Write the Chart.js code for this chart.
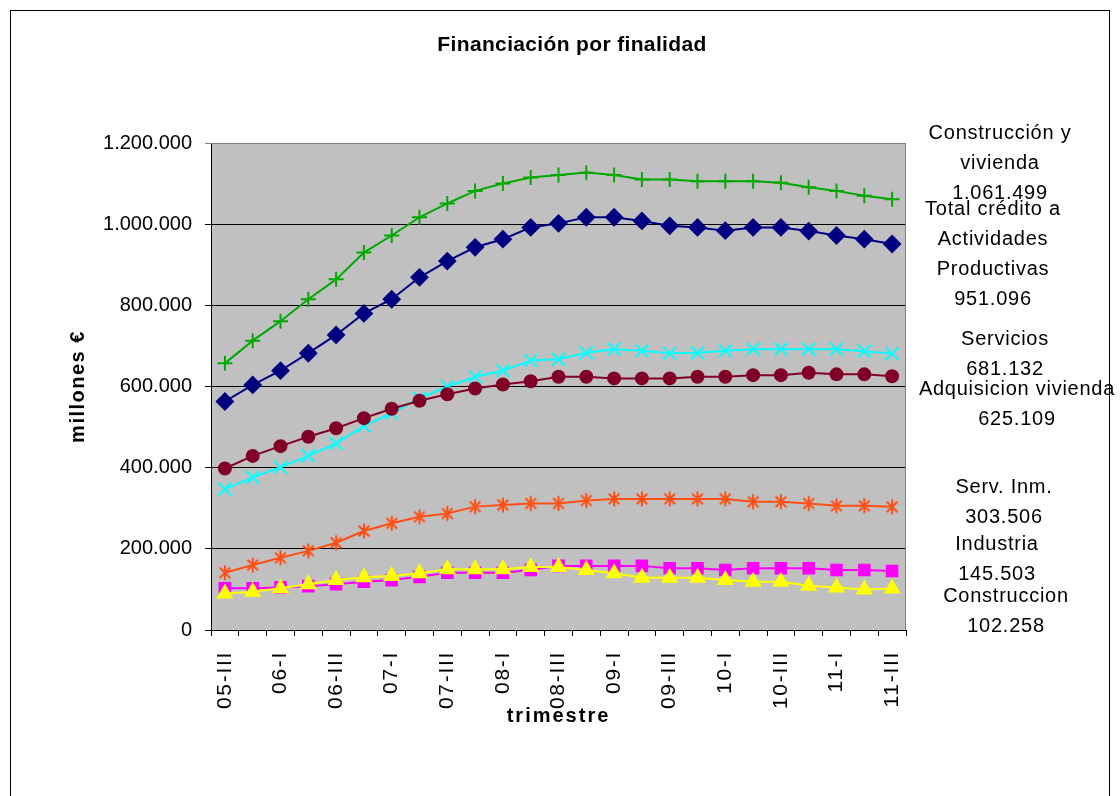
<!DOCTYPE html>
<html>
<head>
<meta charset="utf-8">
<script src="https://cdn.jsdelivr.net/npm/chart.js@4"></script>
<style>
  html, body { margin: 0; padding: 0; background: #fff; }
  canvas { display: block; }
</style>
</head>
<body>
<canvas id="c" width="1120" height="796"></canvas>
<script>
// Quarterly categories
const trimestres = ['05-III','05-IV','06-I','06-II','06-III','06-IV','07-I','07-II','07-III','07-IV',
  '08-I','08-II','08-III','08-IV','09-I','09-II','09-III','09-IV','10-I','10-II','10-III','10-IV',
  '11-I','11-II','11-III'];

// Series, millones €
const construccionVivienda = [657000,713000,761000,815000,864000,930000,972000,1017000,1051000,1082000,
  1100000,1115000,1121000,1127000,1121000,1110000,1110000,1106000,1106000,1106000,1102000,1091000,
  1082000,1070000,1061499];
const totalActividades = [563000,604000,639000,682000,727000,780000,815000,869000,909000,943000,
  963000,992000,1002000,1017000,1017000,1008000,996000,992000,984000,992000,992000,983000,
  972000,963000,951096];
const servicios = [347000,376000,401000,429000,460000,503000,534000,571000,600000,624000,
  639000,664000,667000,683000,692000,688000,682000,683000,688000,692000,692000,692000,
  692000,687000,681132];
const adquisicionVivienda = [398000,429000,453000,476000,497000,522000,545000,565000,581000,595000,
  605000,613000,624000,624000,620000,620000,620000,624000,624000,628000,628000,634000,
  630000,630000,625109];
const servInmobiliarios = [141000,160000,178000,195000,215000,244000,263000,279000,287000,304000,
  308000,312000,312000,319000,323000,323000,323000,323000,323000,316000,316000,312000,
  306000,306000,303506];
const industria = [103000,103000,105000,108000,113000,119000,123000,131000,141000,141000,
  141000,148000,158000,158000,158000,158000,152000,152000,148000,152000,152000,152000,
  148000,148000,145503];
const construccion = [90000,94000,103000,113000,123000,130000,133000,140000,150000,150000,
  150000,155000,155000,148000,140000,129000,129000,129000,123000,119000,119000,109000,
  105000,100000,102258];

// Axis range
const yMin = 0, yMax = 1200000, yStep = 200000;

const FONT = "'Liberation Sans', Arial, sans-serif";
Chart.defaults.font.family = FONT;

// Spanish-style thousands separator
function fmt(v) {
  return Math.round(v).toString().replace(/\B(?=(\d{3})+(?!\d))/g, '.');
}
const last = a => a[a.length - 1];

// Six-armed asterisk marker (diagonal cross plus a vertical stroke)
function asteriskMarker(color, size) {
  const cv = document.createElement('canvas');
  cv.width = size; cv.height = size;
  const g = cv.getContext('2d');
  const c = size / 2, r = size / 2 - 1.5, d = r * Math.SQRT1_2;
  g.strokeStyle = color;
  g.lineWidth = 2;
  g.lineCap = 'butt';
  g.beginPath();
  g.moveTo(c, c - r); g.lineTo(c, c + r);
  g.moveTo(c - d, c - d); g.lineTo(c + d, c + d);
  g.moveTo(c + d, c - d); g.lineTo(c - d, c + d);
  g.stroke();
  return cv;
}

// Right-side captions: text lines and the series whose final value closes them
const captions = [
  { lines: ['Construcción y', 'vivienda'], series: construccionVivienda, x: 1000, y: 133 },
  { lines: ['Total crédito a', 'Actividades', 'Productivas'], series: totalActividades, x: 993, y: 209 },
  { lines: ['Servicios'], series: servicios, x: 1005, y: 339 },
  { lines: ['Adquisicion vivienda'], series: adquisicionVivienda, x: 1017, y: 389 },
  { lines: ['Serv. Inm.'], series: servInmobiliarios, x: 1004, y: 487 },
  { lines: ['Industria'], series: industria, x: 997, y: 544 },
  { lines: ['Construccion'], series: construccion, x: 1006, y: 596 }
];

function spacedText(ctx, text, x, y, font, spacing, align, baseline) {
  ctx.save();
  ctx.font = font;
  ctx.fillStyle = '#000';
  ctx.textAlign = align;
  ctx.textBaseline = baseline;
  if ('letterSpacing' in ctx) ctx.letterSpacing = spacing + 'px';
  ctx.fillText(text, x, y);
  ctx.restore();
}

const frame = {
  id: 'frame',
  beforeDraw(chart) {
    const { ctx, chartArea: a } = chart;
    ctx.save();
    ctx.fillStyle = '#fff';
    ctx.fillRect(0, 0, chart.width, chart.height);
    ctx.strokeStyle = '#000';
    ctx.lineWidth = 1;
    ctx.strokeRect(10.5, 10.5, 1099, 820);
    ctx.fillStyle = '#C0C0C0';
    ctx.fillRect(a.left, a.top, a.right - a.left, a.bottom - a.top);
    ctx.restore();
  },
  afterDraw(chart) {
    const { ctx, chartArea: a } = chart;
    // plot frame (top and right edges)
    ctx.save();
    ctx.strokeStyle = '#808080';
    ctx.lineWidth = 1;
    ctx.beginPath();
    ctx.moveTo(a.left, a.top + 0.5);
    ctx.lineTo(a.right - 0.5, a.top + 0.5);
    ctx.lineTo(a.right - 0.5, a.bottom);
    ctx.stroke();
    ctx.restore();

    // title
    spacedText(ctx, 'Financiación por finalidad', 572, 51, 'bold 21px ' + FONT, 0.35, 'center', 'alphabetic');

    // category labels, every second quarter, rotated
    const xs = chart.scales.x;
    trimestres.forEach((t, i) => {
      if (i % 2) return;
      const px = xs.getPixelForValue(i);
      ctx.save();
      ctx.translate(px, a.bottom + 21);
      ctx.rotate(-Math.PI / 2);
      spacedText(ctx, t, 0, 0, '21px ' + FONT, 1.7, 'right', 'middle');
      ctx.restore();
    });

    // axis titles
    spacedText(ctx, 'trimestre', (a.left + a.right) / 2, 722, 'bold 20px ' + FONT, 2, 'center', 'alphabetic');
    ctx.save();
    ctx.translate(84, (a.top + a.bottom) / 2);
    ctx.rotate(-Math.PI / 2);
    spacedText(ctx, 'millones €', 0, 0, 'bold 20px ' + FONT, 1.5, 'center', 'alphabetic');
    ctx.restore();

    // captions with final values
    captions.forEach(c => {
      const rows = c.lines.concat([fmt(last(c.series))]);
      rows.forEach((r, k) => {
        spacedText(ctx, r, c.x, c.y + k * 30, '20px ' + FONT, 0.75, 'center', 'middle');
      });
    });
  }
};

function series(data, color, style, radius, order) {
  return {
    data, borderColor: color, backgroundColor: color, borderWidth: 2,
    pointStyle: style, pointRadius: radius, pointBorderColor: color,
    pointBackgroundColor: color, pointBorderWidth: 2, tension: 0, fill: false, order
  };
}

new Chart(document.getElementById('c'), {
  type: 'line',
  data: {
    labels: trimestres,
    datasets: [
      series(construccion, '#FFFF00', 'triangle', 8, 1),
      series(industria, '#FF00FF', 'rect', 7.5, 2),
      series(servInmobiliarios, '#FF4F14', asteriskMarker('#FF4F14', 18), 8, 3),
      series(adquisicionVivienda, '#800026', 'circle', 6, 4),
      series(servicios, '#00FFFF', 'crossRot', 9, 5),
      series(totalActividades, '#000080', 'rectRot', 8, 6),
      series(construccionVivienda, '#00A800', 'cross', 7.5, 7)
    ]
  },
  options: {
    responsive: false,
    animation: false,
    events: [],
    layout: { padding: { left: 0, right: 214, top: 143, bottom: 0 } },
    plugins: { legend: { display: false }, title: { display: false }, tooltip: { enabled: false } },
    scales: {
      x: {
        type: 'category',
        offset: true,
        grid: { offset: true, drawOnChartArea: false, drawTicks: true, tickLength: 6, color: '#000' },
        border: { display: true, color: '#000', width: 1 },
        ticks: { display: false },
        afterFit(s) { s.height = 166; }
      },
      y: {
        min: yMin, max: yMax,
        ticks: {
          stepSize: yStep, padding: 13, color: '#000',
          font: { size: 20, family: FONT },
          callback: v => fmt(v)
        },
        grid: {
          tickLength: 6,
          color: c => (c.tick && c.tick.value === yMax) ? '#808080' : '#000'
        },
        border: { display: true, color: '#000', width: 1 },
        afterFit(s) { s.width = 211; }
      }
    }
  },
  plugins: [frame]
});
</script>
</body>
</html>
